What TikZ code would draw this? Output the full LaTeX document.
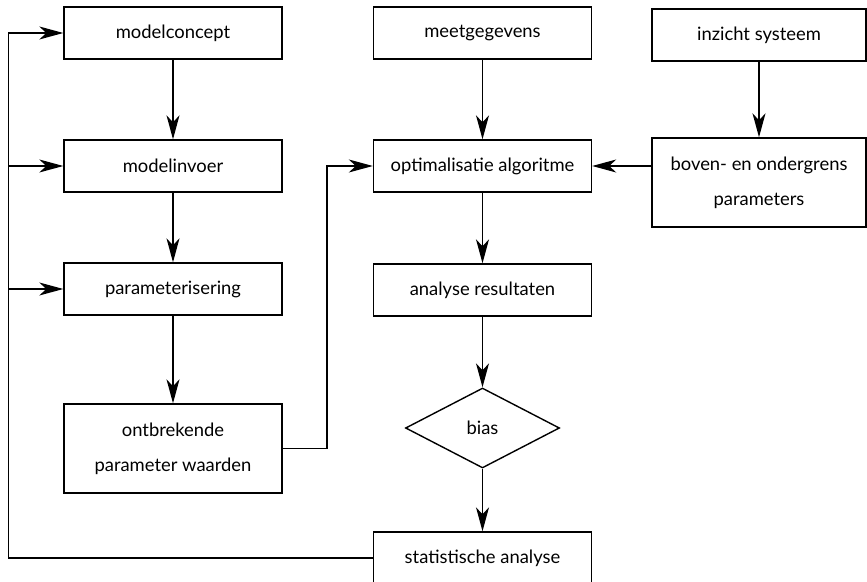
\documentclass[tikz,border=0pt]{standalone}
\usepackage{fontspec}
\setmainfont{Lato}
\usetikzlibrary{shapes.geometric,arrows.meta}
\begin{document}
\begin{tikzpicture}[x=0.5pt,y=-0.5pt,line width=0.7pt,
  >={Stealth[length=12pt,width=6.5pt,inset=3.5pt]},
  stap/.style={rectangle,draw,minimum width=109pt,minimum height=26pt,inner sep=0pt,
    align=center,font=\fontsize{9.2}{17.5}\selectfont},
  keuze/.style={diamond,draw,minimum width=77pt,minimum height=40pt,inner sep=0pt,
    aspect=1.9,font=\fontsize{9.2}{17.5}\selectfont}]
\useasboundingbox (0,0) rectangle (867,582);

\node[stap] (concept) at (173,33)    {modelconcept};
\node[stap] (invoer)  at (173,166)   {modelinvoer};
\node[stap] (param)   at (173,289)   {parameterisering};
\node[stap, minimum height=44.5pt] (ontbr) at (173,448.5) {ontbrekende\\parameter waarden};
\node[stap] (meet)    at (482.5,33)    {meetgegevens};
\node[stap] (optim)   at (482.5,166)   {optimalisatie algoritme};
\node[stap] (analyse) at (482.5,290)   {analyse resultaten};
\node[keuze] (bias)   at (482.5,428)   {bias};
\node[stap] (stat)    at (482.5,558)   {statistische analyse};
\node[stap, minimum width=107pt] (inzicht) at (759,35) {inzicht systeem};
\node[stap, minimum width=107pt, minimum height=44.5pt] (grens) at (759,182.5) {boven- en ondergrens\\parameters};

\coordinate (kink) at (327,448.5);
\coordinate (terug) at (8.5,558);

\draw[->] (concept) -- (invoer);
\draw[->] (invoer) -- (param);
\draw[->] (param) -- (ontbr);
\draw[->] (meet) -- (optim);
\draw[->] (inzicht) -- (grens);
\draw[->] (optim) -- (analyse);
\draw[->] (analyse) -- (bias);
\draw[->] (bias) -- (stat);
\draw[->] (grens.west |- optim.east) -- (optim.east);
\draw[->] (ontbr.east) -- (kink) |- (optim.west);
%terugkoppeling
\draw[->] (stat.west) -- (terug) |- (concept.west);
\draw[->] (terug |- invoer.west) -- (invoer.west);
\draw[->] (terug |- param.west) -- (param.west);
\end{tikzpicture}
\end{document}
